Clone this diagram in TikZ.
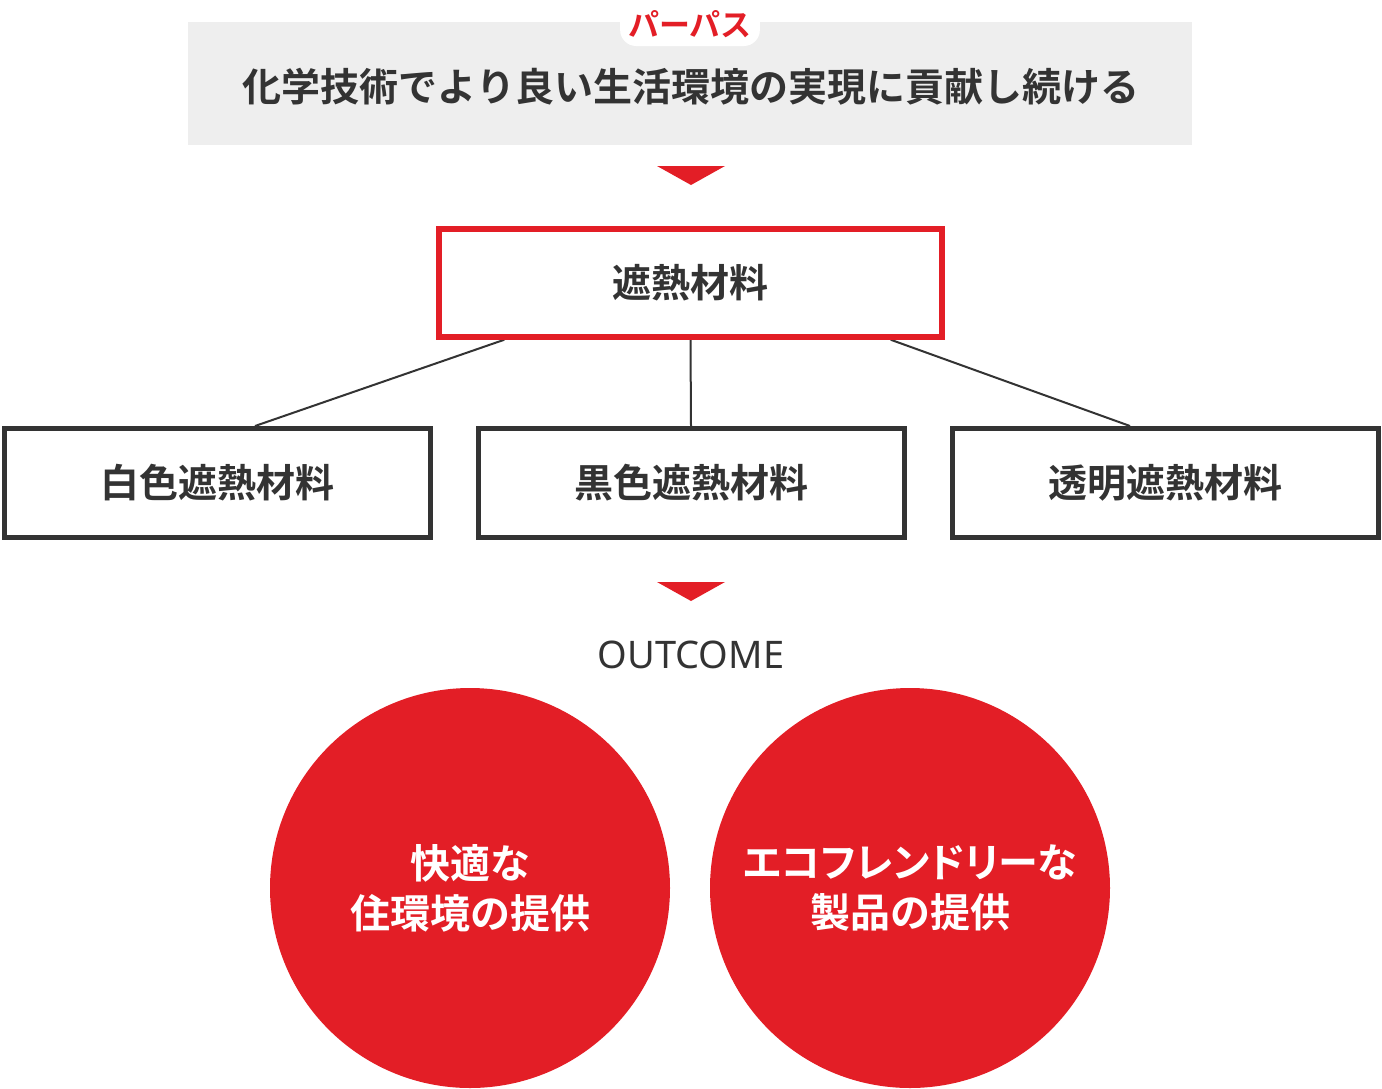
\documentclass[tikz,border=0pt]{standalone}
\usepackage{fontspec}
\setmainfont{Noto Sans CJK JP}
\newfontfamily\heavyfont{Noto Sans CJK JP Bold}
\newfontfamily\kanafont{Noto Sans CJK JP Bold}[RawFeature=+palt]
\newfontfamily\latinfont{Noto Sans}
\usetikzlibrary{positioning,calc,backgrounds}
\definecolor{brandred}{HTML}{E31E26}
\definecolor{ink}{HTML}{333333}
\definecolor{band}{HTML}{EEEEEE}
\newcommand{\drop}[1]{\fill[brandred] (657,#1) -- (725,#1) -- (691,#1+19) -- cycle;}

\begin{document}
\begin{tikzpicture}[x=0.5pt, y=-0.5pt,
  every node/.style={text=ink},
  mainbox/.style={draw=brandred, line width=2.75pt, minimum width=251.5pt, minimum height=54pt, inner sep=0pt, font=\heavyfont\fontsize{19.5}{23}\selectfont},
  kindbox/.style={draw=ink, line width=2.5pt, minimum width=213pt, minimum height=54.5pt, inner sep=0pt, font=\heavyfont\fontsize{19.5}{23}\selectfont},
  goal/.style={circle, fill=brandred, minimum size=200pt, inner sep=0pt, text=white, align=center, font=\heavyfont\fontsize{20}{25}\selectfont},
  link/.style={draw=ink, line width=1pt}]
\useasboundingbox (0,0) rectangle (1382,1088);
% purpose band
\fill[band] (188,22) rectangle (1192,145);
\node[font=\heavyfont\fontsize{19.5}{23}\selectfont] (purpose) at (691,87) {化学技術でより良い生活環境の実現に貢献し続ける};
\node[fill=white, rounded corners=8pt, inner xsep=4pt, minimum height=22pt, text=brandred, font=\heavyfont\fontsize{15.5}{15.5}\selectfont] (tag) at (690,24) {パーパス};
\drop{166}
% materials
\node[mainbox] (heat) at (690.5,283) {遮熱材料};
\node[kindbox] (white) at (217,483) {白色遮熱材料};
\node[kindbox] (black) at (691,483) {黒色遮熱材料};
\node[kindbox] (clear) at (1165,483) {透明遮熱材料};
\begin{scope}[on background layer]
\draw[link] ($(heat.south west)+(68,0)$) -- ($(white.north)+(38,0)$);
\draw[link] (heat.south) -- (black.north);
\draw[link] ($(heat.south east)+(-54,0)$) -- ($(clear.north)+(-35,0)$);
\end{scope}
\drop{582}
% outcome
\node[font=\latinfont\fontsize{19}{19}\selectfont] (outcome) at (691,655) {OUTCOME};
\node[goal] (comfort) at (470,888) {快適な\\住環境の提供};
\node[goal] (eco) at (910,888) {{\kanafont エコフレンドリーな}\\製品の提供};
\end{tikzpicture}
\end{document}
